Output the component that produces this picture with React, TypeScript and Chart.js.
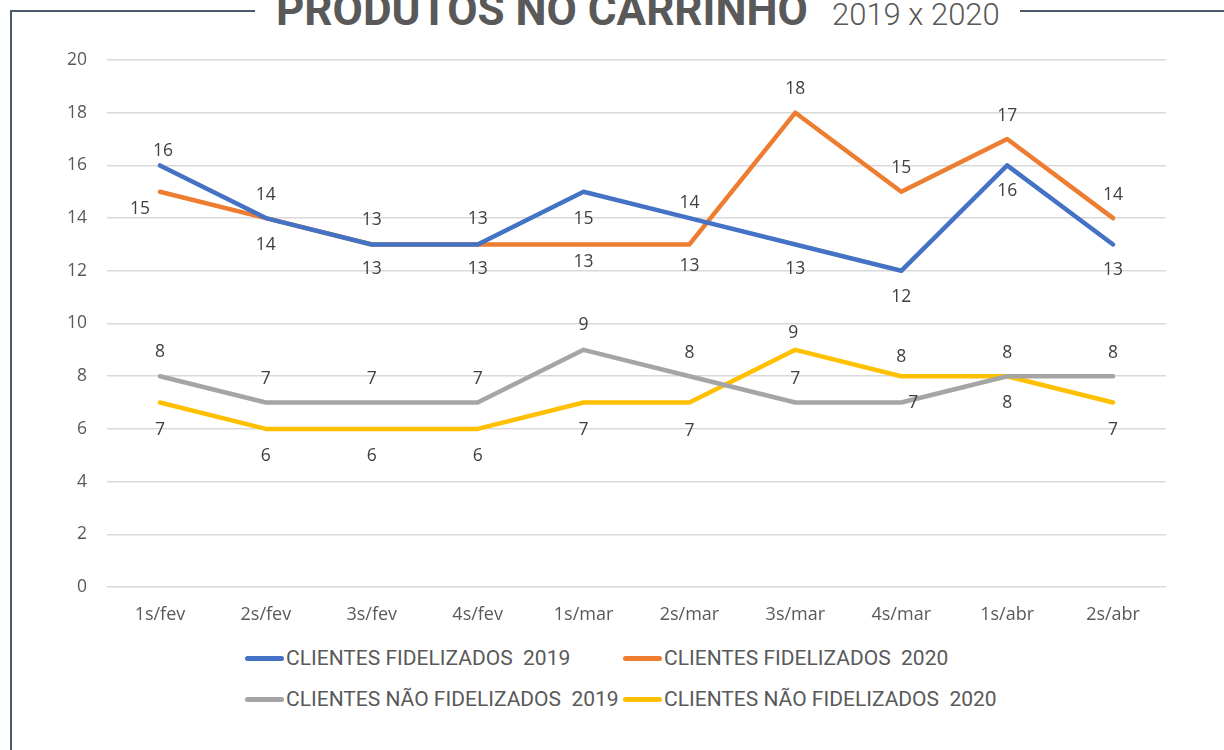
import React, { useEffect, useRef } from "react";
import { Chart, registerables } from "chart.js";

Chart.register(...registerables);

// ---------- data ----------
const categories = ["1s/fev", "2s/fev", "3s/fev", "4s/fev", "1s/mar", "2s/mar", "3s/mar", "4s/mar", "1s/abr", "2s/abr"];
const fidelizados2019 = [16, 14, 13, 13, 15, 14, 13, 12, 16, 13];
const fidelizados2020 = [15, 14, 13, 13, 13, 13, 18, 15, 17, 14];
const naoFidelizados2019 = [8, 7, 7, 7, 9, 8, 7, 7, 8, 8];
const naoFidelizados2020 = [7, 6, 6, 6, 7, 7, 9, 8, 8, 7];
const seriesLabels = [
  "CLIENTES FIDELIZADOS  2019",
  "CLIENTES FIDELIZADOS  2020",
  "CLIENTES NÃO FIDELIZADOS  2019",
  "CLIENTES NÃO FIDELIZADOS  2020",
];
const seriesColors = ["#4472C4", "#ED7D31", "#A5A5A5", "#FFC000"];
const yMin = 0;
const yMax = 20;
const yStep = 2;

// ---------- data-label placement (pixel offsets from the point) ----------
const labelDx = [
  [3, 0, 0, 0, 0, 0, 0, 0, 0, 0],
  [-20, 0, 0, 0, 0, 0, 0, 0, 0, 0],
  [0, 0, 0, 0, 0, 0, 0, 12, 0, 0],
  [0, 0, 0, 0, 0, 0, -2, 0, 0, 0],
];
const labelDy = [
  [-14, -23, -24, -25, 27, -15, 25, 26, 26, 26],
  [17, 27, 25, 25, 18, 22, -24, -24, -23, -23],
  [-24, -24, -24, -24, -25, -23, -24, 0, 27, -23],
  [27, 27, 27, 27, 27, 28, -17, -19, -23, 27],
];

const seriesData = [fidelizados2019, fidelizados2020, naoFidelizados2019, naoFidelizados2020];

const dataLabelPlugin = {
  id: "dataLabels",
  afterDatasetsDraw(chart: any) {
    const ctx = chart.ctx;
    ctx.save();
    ctx.font = "17.5px 'Open Sans'";
    ctx.fillStyle = "#404040";
    ctx.textAlign = "center";
    ctx.textBaseline = "middle";
    chart.data.datasets.forEach((ds: any, di: number) => {
      const meta = chart.getDatasetMeta(di);
      meta.data.forEach((pt: any, i: number) => {
        const v = ds.data[i];
        ctx.fillText(String(v), pt.x + labelDx[di][i], pt.y + labelDy[di][i]);
      });
    });
    ctx.restore();
  },
};

function LineChart() {
  const ref = useRef<HTMLCanvasElement | null>(null);
  useEffect(() => {
    if (!ref.current) return;
    const chart = new Chart(ref.current, {
      type: "line",
      data: {
        labels: categories,
        datasets: seriesData.map((d, i) => ({
          label: seriesLabels[i],
          data: d,
          borderColor: seriesColors[i],
          backgroundColor: seriesColors[i],
          borderWidth: 4.5,
          borderCapStyle: "round",
          borderJoinStyle: "round",
          pointRadius: 0,
          pointHoverRadius: 0,
          tension: 0,
          fill: false,
        })),
      },
      options: {
        responsive: false,
        animation: false,
        devicePixelRatio: 1,
        layout: { padding: { top: 60, right: 58, bottom: 0, left: 0 } },
        plugins: {
          legend: { display: false },
          title: { display: false },
          tooltip: { enabled: false },
        },
        scales: {
          x: {
            offset: true,
            grid: { display: false, drawTicks: false },
            border: { display: false },
            ticks: {
              color: "#595959",
              font: { family: "'Open Sans'", size: 18 },
              padding: 17,
              maxRotation: 0,
              autoSkip: false,
            },
            afterFit: (scale: any) => {
              scale.height = 53;
            },
          },
          y: {
            min: yMin,
            max: yMax,
            grid: { color: "#d9d9d9", lineWidth: 1.5, drawTicks: false },
            border: { display: false },
            ticks: {
              stepSize: yStep,
              color: "#595959",
              font: { family: "'Open Sans'", size: 17.5 },
              padding: 20,
            },
            afterFit: (scale: any) => {
              scale.width = 107;
            },
          },
        },
      },
      plugins: [dataLabelPlugin],
    } as any);
    return () => chart.destroy();
  }, []);
  return (
    <canvas
      ref={ref}
      width={1224}
      height={640}
      style={{ position: "absolute", left: 0, top: 0, width: 1224, height: 640 }}
    />
  );
}

const legendPositions = [
  { left: 245, top: 658 },
  { left: 623, top: 658 },
  { left: 245, top: 699 },
  { left: 623, top: 699 },
];

export default function App() {
  const frame = "#4b5968";
  return (
    <div
      style={{
        position: "fixed",
        left: 0,
        top: 0,
        width: 1224,
        height: 750,
        background: "#ffffff",
        overflow: "hidden",
      }}
    >
      {/* frame */}
      <div style={{ position: "absolute", left: 10, top: 10, width: 245, height: 2, background: frame }} />
      <div style={{ position: "absolute", left: 10, top: 10, width: 2, height: 760, background: frame }} />
      <div style={{ position: "absolute", left: 1020, top: 10, width: 210, height: 2, background: frame }} />
      {/* title */}
      <div
        style={{
          position: "absolute",
          left: 276,
          top: -12,
          fontFamily: "Roboto",
          fontWeight: 700,
          fontSize: 44,
          lineHeight: "44px",
          color: "#595959",
          whiteSpace: "pre",
        }}
      >
        PRODUTOS NO CARRINHO
      </div>
      <div
        style={{
          position: "absolute",
          left: 832,
          top: -1,
          fontFamily: "Roboto",
          fontWeight: 300,
          fontSize: 31,
          lineHeight: "31px",
          color: "#595959",
          whiteSpace: "pre",
        }}
      >
        2019 x 2020
      </div>
      <LineChart />
      {/* legend */}
      {seriesLabels.map((lab, i) => (
        <div
          key={lab}
          style={{
            position: "absolute",
            left: legendPositions[i].left,
            top: legendPositions[i].top - 14,
            height: 28,
            display: "flex",
            alignItems: "center",
            whiteSpace: "pre",
          }}
        >
          <div
            style={{
              width: 39,
              height: 5,
              borderRadius: 3,
              background: seriesColors[i],
              marginRight: 2,
            }}
          />
          <span
            style={{
              fontFamily: "Roboto",
              fontSize: 21,
              lineHeight: "28px",
              color: "#595959",
            }}
          >
            {lab}
          </span>
        </div>
      ))}
    </div>
  );
}
